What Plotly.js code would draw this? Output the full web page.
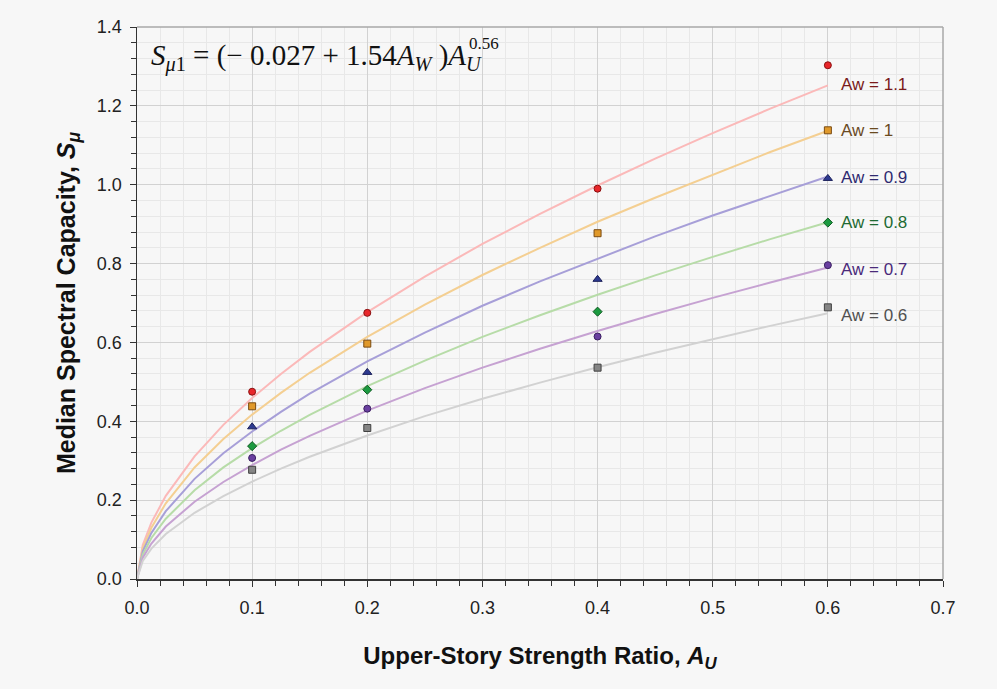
<!DOCTYPE html>
<html>
<head>
<meta charset="utf-8">
<script src="https://cdn.plot.ly/plotly-3.0.1.min.js"></script>
<style>html,body{margin:0;padding:0;background:#f7f7f7;}#chart{width:997px;height:689px;}</style>
</head>
<body>
<div id="chart"></div>
<script>
// Curve sample points (upper-story strength ratio A_U)
const curveAu = [0, 0.005, 0.0125, 0.025, 0.05, 0.075, 0.1, 0.125, 0.15, 0.2, 0.25, 0.3, 0.35, 0.4, 0.45, 0.5, 0.55, 0.6];
const curveAw11 = [0, 0.086, 0.143, 0.211, 0.311, 0.391, 0.459, 0.520, 0.576, 0.677, 0.767, 0.850, 0.926, 0.998, 1.066, 1.131, 1.193, 1.252];
const curveAw10 = [0, 0.078, 0.130, 0.192, 0.283, 0.355, 0.417, 0.472, 0.523, 0.614, 0.696, 0.771, 0.840, 0.906, 0.967, 1.026, 1.083, 1.137];
const curveAw09 = [0, 0.070, 0.117, 0.172, 0.254, 0.319, 0.374, 0.424, 0.470, 0.552, 0.625, 0.693, 0.755, 0.813, 0.869, 0.922, 0.972, 1.021];
const curveAw08 = [0, 0.062, 0.104, 0.153, 0.225, 0.283, 0.332, 0.376, 0.416, 0.489, 0.554, 0.614, 0.669, 0.721, 0.770, 0.817, 0.862, 0.905];
const curveAw07 = [0, 0.054, 0.090, 0.133, 0.196, 0.246, 0.289, 0.328, 0.363, 0.427, 0.484, 0.536, 0.584, 0.629, 0.672, 0.713, 0.752, 0.790];
const curveAw06 = [0, 0.046, 0.077, 0.114, 0.168, 0.210, 0.247, 0.280, 0.310, 0.364, 0.413, 0.457, 0.498, 0.537, 0.574, 0.608, 0.642, 0.674];

// Observed data points
const pointAu = [0.1, 0.2, 0.4, 0.6];
const pointAw11 = [0.475, 0.675, 0.990, 1.303];
const pointAw10 = [0.438, 0.597, 0.877, 1.138];
const pointAw09 = [0.386, 0.524, 0.760, 1.016];
const pointAw08 = [0.337, 0.480, 0.678, 0.904];
const pointAw07 = [0.307, 0.432, 0.615, 0.796];
const pointAw06 = [0.277, 0.383, 0.536, 0.689];

const seriesLabels = ["Aw = 1.1", "Aw = 1", "Aw = 0.9", "Aw = 0.8", "Aw = 0.7", "Aw = 0.6"];
const labelY = [1.253, 1.138, 1.019, 0.905, 0.785, 0.668];

const curves = [curveAw11, curveAw10, curveAw09, curveAw08, curveAw07, curveAw06];
const points = [pointAw11, pointAw10, pointAw09, pointAw08, pointAw07, pointAw06];

const lineColors = ["#fbb9b9", "#f4cf92", "#a79fd8", "#b7dca8", "#c6a2d2", "#d2d2d2"];
const markerFill = ["#e8262a", "#e0992a", "#2d3a90", "#1c9a40", "#6a3fa0", "#858585"];
const markerLine = ["#8a1010", "#7a4a10", "#1a1f5a", "#0d5a20", "#3a1f60", "#404040"];
const markerSymbol = ["circle", "square", "triangle-up", "diamond", "circle", "square"];
const markerSize = [7, 7, 8, 7, 7, 7];
const labelColors = ["#7a1a1a", "#6a4a1f", "#2e2a70", "#1e6a32", "#4a2a7a", "#505050"];

const traces = [];
curves.forEach((c, i) => {
  traces.push({x: curveAu, y: c, mode: 'lines', type: 'scatter',
    line: {color: lineColors[i], width: 2}, hoverinfo: 'skip', showlegend: false});
});
points.forEach((p, i) => {
  traces.push({x: pointAu, y: p, mode: 'markers', type: 'scatter',
    marker: {symbol: markerSymbol[i], size: markerSize[i], color: markerFill[i],
      line: {color: markerLine[i], width: 1}}, showlegend: false});
});

const annotations = seriesLabels.map((t, i) => ({
  x: 0.61, y: labelY[i], xref: 'x', yref: 'y', text: t, showarrow: false,
  xanchor: 'left', yanchor: 'middle',
  font: {family: 'Liberation Sans, Arial, sans-serif', size: 17, color: labelColors[i]}
}));
const serif = 'Liberation Serif, Times New Roman, serif';
annotations.push({
  x: 0.0105, y: 1.322, xref: 'x', yref: 'y', xanchor: 'left', yanchor: 'middle', showarrow: false,
  text: '<i>S</i><sub><i>μ</i>1</sub> = (− 0.027 + 1.54<i>A</i><sub><i>W</i></sub> )<i>A</i><sub><i>U</i></sub>',
  font: {family: serif, size: 29, color: '#111'}
});
annotations.push({
  x: 0.2865, y: 1.357, xref: 'x', yref: 'y', xanchor: 'left', yanchor: 'middle', showarrow: false,
  text: '0.56',
  font: {family: serif, size: 17, color: '#111'}
});

const axisFont = {family: 'Liberation Sans, Arial, sans-serif', size: 18, color: '#222'};

const layout = {
  width: 997, height: 689,
  paper_bgcolor: '#f7f7f7', plot_bgcolor: '#f7f7f7',
  margin: {l: 137, r: 54, t: 27, b: 110},
  showlegend: false,
  xaxis: {
    range: [0, 0.7], tick0: 0, dtick: 0.1, tickformat: '.1f',
    showgrid: true, gridcolor: '#d2d2d2', gridwidth: 1,
    minor: {dtick: 0.02, showgrid: true, gridcolor: '#e8e8e8', ticks: 'outside', ticklen: 5, tickcolor: '#333'},
    ticks: 'outside', ticklen: 6, tickcolor: '#333', ticklabelstandoff: 6,
    showline: true, linecolor: '#333', linewidth: 1.5, zeroline: false,
    tickfont: axisFont,
    title: {text: '<b>Upper-Story Strength Ratio, <i>A</i><sub><i>U</i></sub></b>', standoff: 30,
      font: {family: 'Liberation Sans, Arial, sans-serif', size: 24, color: '#111'}}
  },
  yaxis: {
    range: [0, 1.4], tick0: 0, dtick: 0.2, tickformat: '.1f',
    showgrid: true, gridcolor: '#d2d2d2', gridwidth: 1,
    minor: {dtick: 0.04, showgrid: true, gridcolor: '#e8e8e8', ticks: 'outside', ticklen: 5, tickcolor: '#333'},
    ticks: 'outside', ticklen: 6, tickcolor: '#333', ticklabelstandoff: 4,
    showline: true, linecolor: '#333', linewidth: 1.5, zeroline: false,
    tickfont: axisFont,
    title: {text: '<b>Median Spectral Capacity, <i>S</i><sub><i>μ</i></sub></b>', standoff: 14,
      font: {family: 'Liberation Sans, Arial, sans-serif', size: 25, color: '#111'}}
  },
  shapes: [
    {type: 'line', xref: 'paper', yref: 'paper', x0: 0, x1: 1, y0: 1, y1: 1, line: {color: '#a8a8a8', width: 1.5}},
    {type: 'line', xref: 'paper', yref: 'paper', x0: 1, x1: 1, y0: 0, y1: 1, line: {color: '#a8a8a8', width: 1.5}}
  ],
  annotations: annotations
};

Plotly.newPlot('chart', traces, layout, {displayModeBar: false, staticPlot: true});
</script>
</body>
</html>
